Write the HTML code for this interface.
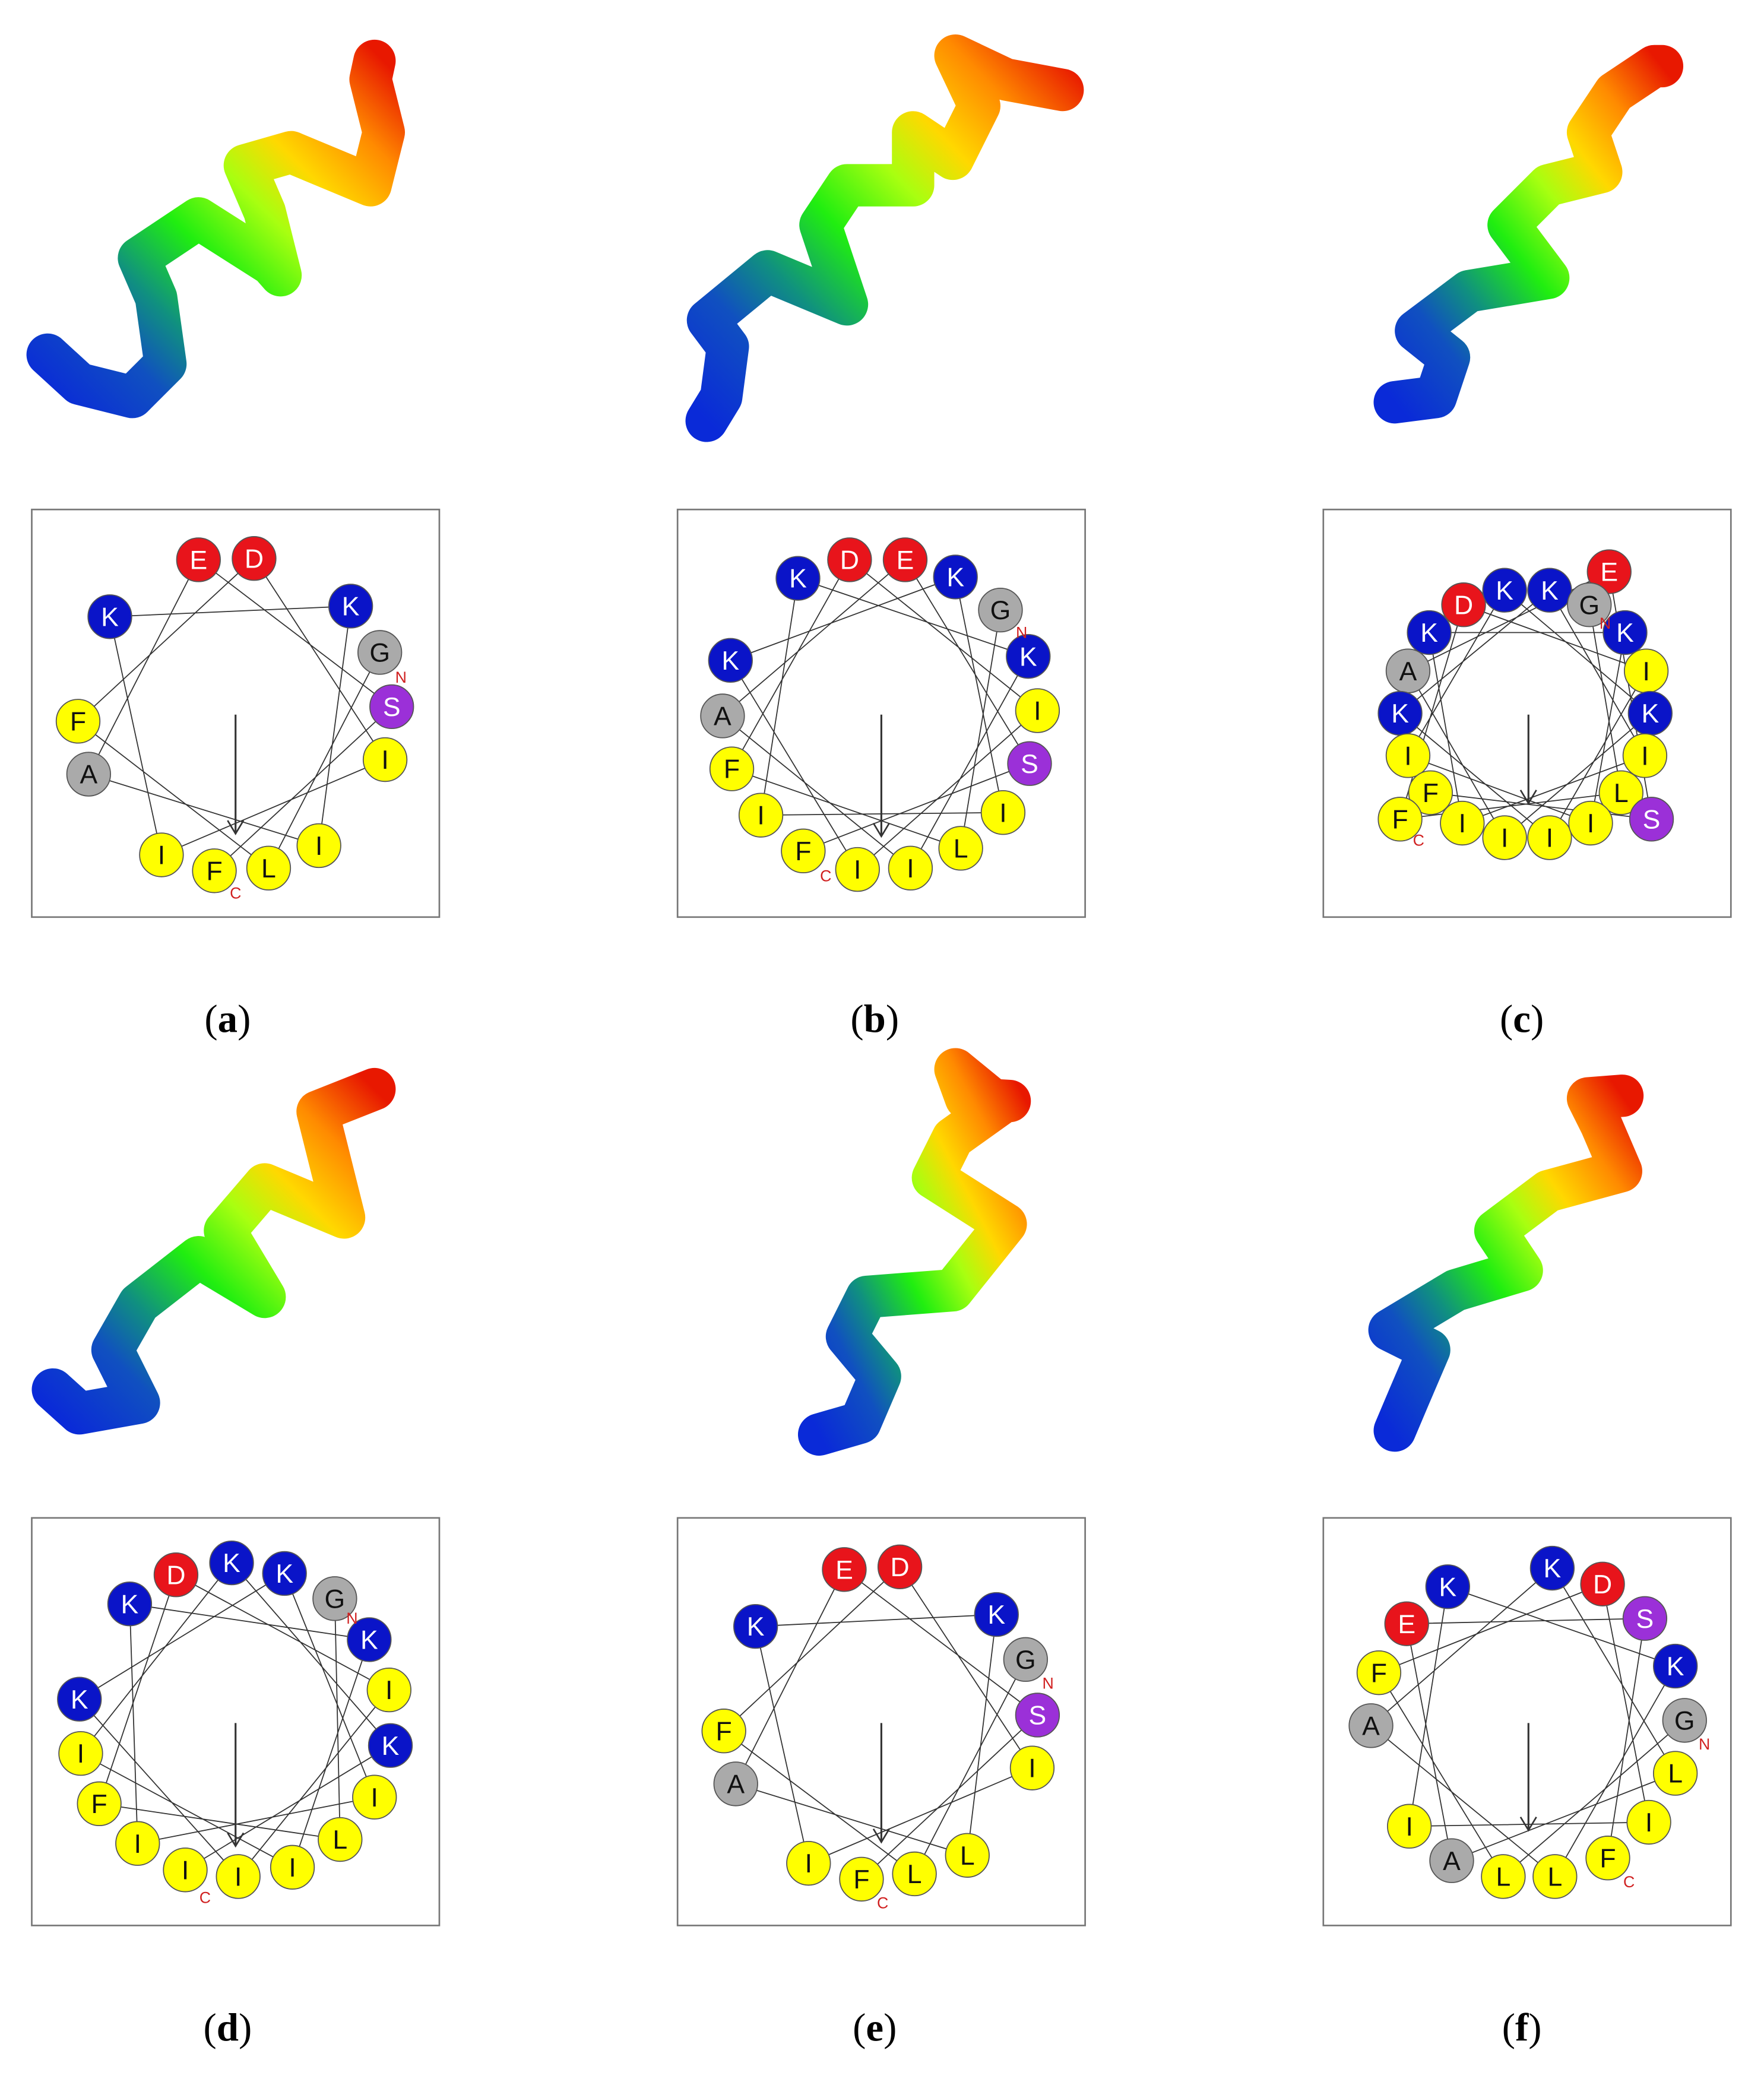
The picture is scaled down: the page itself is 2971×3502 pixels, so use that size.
<!DOCTYPE html>
<html><head><meta charset="utf-8">
<style>html,body{margin:0;padding:0;background:#fff}svg{display:block}</style>
</head><body>
<svg id="s" width="2971" height="3502" viewBox="0 0 1333 1571" preserveAspectRatio="none" xmlns="http://www.w3.org/2000/svg">
<defs>
<linearGradient id="rg" x1="0" y1="1" x2="1" y2="0">
<stop offset="0" stop-color="#0a2ad8"/><stop offset="0.18" stop-color="#1050c0"/>
<stop offset="0.3" stop-color="#109080"/><stop offset="0.45" stop-color="#20ee10"/>
<stop offset="0.6" stop-color="#a8ff10"/><stop offset="0.72" stop-color="#ffd800"/>
<stop offset="0.86" stop-color="#ff8a00"/><stop offset="1" stop-color="#e81800"/>
</linearGradient>
</defs>
<g fill="none" stroke="url(#rg)" stroke-width="32" stroke-linejoin="round" stroke-linecap="round">
<polyline points="36,268 60,290 100,300 125,275 118,225 105,195 150,165 205,200 212,208 200,160 185,125 220,115 280,140 290,100 280,60 283,46"/>
<polyline points="534,318 545,300 550,262 535,242 580,205 640,230 620,170 640,140 690,140 690,100 720,120 740,80 722,42 760,60 803,68"/>
<polyline points="1054,304 1085,300 1095,270 1070,250 1110,220 1170,210 1140,170 1170,140 1210,130 1200,100 1220,70 1250,50 1256,50"/>
<polyline points="40,1050 60,1068 105,1060 85,1020 105,985 150,950 200,980 170,930 200,895 260,920 250,880 240,840 283,823"/>
<polyline points="619,1084 650,1075 665,1040 640,1010 655,980 720,975 760,925 705,890 720,860 755,835 722,808 730,830 763,832"/>
<polyline points="1054,1081 1065,1055 1080,1020 1050,1005 1100,975 1150,960 1130,930 1170,900 1225,885 1210,850 1200,830 1226,828"/>
</g>
<g id="wheels"></g>
<g font-family="Liberation Serif, serif" font-size="30" text-anchor="middle">
<text x="172" y="780">(<tspan font-weight="bold">a</tspan>)</text>
<text x="661" y="780">(<tspan font-weight="bold">b</tspan>)</text>
<text x="1150" y="780">(<tspan font-weight="bold">c</tspan>)</text>
<text x="172" y="1542">(<tspan font-weight="bold">d</tspan>)</text>
<text x="661" y="1542">(<tspan font-weight="bold">e</tspan>)</text>
<text x="1150" y="1542">(<tspan font-weight="bold">f</tspan>)</text>
</g>
</svg>
<script>
var NS="http://www.w3.org/2000/svg";
var C={E:"#e8141b",D:"#e8141b",K:"#0a14c8",G:"#aaaaaa",A:"#aaaaaa",S:"#9b30d8"};
var panels=[
{bx:24,by:385,cx:178,cy:540,ay:630,n:"G",N:[303,512],Cc:[178,675],nodes:[["E",150,423],["D",192,422],["K",83,466],["K",265,458],["G",287,493],["S",296,534],["F",59,545],["I",291,574],["A",67,585],["I",241,639],["I",122,646],["F",162,658],["L",203,656]]},
{bx:512,by:385,cx:666,cy:540,ay:632,n:"G",N:[772,478],Cc:[624,662],nodes:[["K",603,437],["D",642,423],["E",684,423],["K",722,436],["G",756,461],["K",777,496],["I",784,537],["S",778,577],["I",758,614],["L",726,641],["I",688,656],["I",648,657],["F",607,643],["I",575,616],["F",553,581],["A",546,541],["K",552,499]]},
{bx:1000,by:385,cx:1155,cy:540,ay:607,n:"G",N:[1213,471],Cc:[1072,635],nodes:[["E",1216,432],["D",1106,457],["K",1137,446],["K",1171,446],["G",1201,457],["K",1228,478],["K",1080,478],["A",1064,507],["I",1244,507],["K",1058,539],["K",1247,539],["I",1064,571],["I",1243,571],["F",1081,599],["L",1225,599],["F",1058,619],["S",1248,619],["I",1105,622],["I",1137,633],["I",1171,633],["I",1202,622]]},
{bx:24,by:1147,cx:178,cy:1302,ay:1395,n:"G",N:[266,1223],Cc:[155,1434],nodes:[["K",175,1181],["D",133,1190],["K",215,1189],["K",98,1212],["G",253,1208],["K",279,1239],["K",60,1284],["I",294,1277],["K",295,1319],["I",61,1325],["I",283,1358],["F",75,1363],["L",257,1390],["I",104,1393],["I",221,1411],["I",140,1413],["I",180,1418]]},
{bx:512,by:1147,cx:666,cy:1302,ay:1392,n:"G",N:[792,1272],Cc:[667,1438],nodes:[["E",638,1186],["D",680,1184],["K",571,1229],["K",753,1220],["G",775,1254],["S",784,1296],["F",547,1308],["I",780,1336],["A",556,1348],["L",731,1402],["I",611,1408],["F",651,1420],["L",691,1416]]},
{bx:1000,by:1147,cx:1155,cy:1302,ay:1383,n:"G",N:[1288,1318],Cc:[1231,1422],nodes:[["K",1173,1185],["D",1211,1197],["K",1094,1199],["S",1243,1223],["E",1063,1227],["K",1266,1259],["F",1042,1264],["A",1036,1304],["G",1273,1300],["L",1266,1340],["I",1065,1380],["I",1246,1377],["F",1215,1404],["A",1097,1406],["L",1136,1418],["L",1175,1418]]}
];
var W=document.getElementById("wheels");
function el(t,a,p){var e=document.createElementNS(NS,t);for(var k in a)e.setAttribute(k,a[k]);(p||W).appendChild(e);return e;}
function chain(p,dir){
 var nd=p.nodes.map(function(n){return {l:n[0],x:n[1],y:n[2],a:Math.atan2(n[2]-p.cy,n[1]-p.cx)*180/Math.PI};});
 var start=0;for(var i=0;i<nd.length;i++)if(nd[i].l==="G"){start=i;break;}
 var used={},order=[start],cur=start,err=0;used[start]=1;
 for(var s=1;s<nd.length;s++){
  var target=nd[cur].a+dir*100,best=-1,bd=1e9;
  for(var j=0;j<nd.length;j++){if(used[j])continue;var d=Math.abs(((nd[j].a-target)%360+540)%360-180);if(d<bd){bd=d;best=j;}}
  used[best]=1;order.push(best);cur=best;err+=bd;
 }
 return {o:order,e:err,nd:nd};
}
panels.forEach(function(p){
 el("rect",{x:p.bx,y:p.by,width:308,height:308,fill:"#fff",stroke:"#777","stroke-width":1.2});
 var a=chain(p,1),b=chain(p,-1),c=a.e<b.e?a:b;
 var pts=c.o.map(function(i){return c.nd[i].x+","+c.nd[i].y;}).join(" ");
 el("polyline",{points:pts,fill:"none",stroke:"#333","stroke-width":0.8});
 el("line",{x1:p.cx,y1:p.cy,x2:p.cx,y2:p.ay,stroke:"#333","stroke-width":1.4});
 el("polyline",{points:(p.cx-6)+","+(p.ay-10)+" "+p.cx+","+p.ay+" "+(p.cx+6)+","+(p.ay-10),fill:"none",stroke:"#333","stroke-width":1.2});
 p.nodes.forEach(function(n){
  var col=C[n[0]]||"#ffff00";
  el("circle",{cx:n[1],cy:n[2],r:16.5,fill:col,stroke:"#555","stroke-width":0.8});
  var dark=(col==="#ffff00"||col==="#aaaaaa");
  var t=el("text",{x:n[1],y:n[2]+7,"text-anchor":"middle","font-family":"Liberation Sans, sans-serif","font-size":20,fill:dark?"#111":"#fff"});
  t.textContent=n[0];
 });
 var tn=el("text",{x:p.N[0],y:p.N[1]+4,"text-anchor":"middle","font-family":"Liberation Sans, sans-serif","font-size":12,fill:"#d02020"});tn.textContent="N";
 var tc=el("text",{x:p.Cc[0],y:p.Cc[1]+4,"text-anchor":"middle","font-family":"Liberation Sans, sans-serif","font-size":12,fill:"#d02020"});tc.textContent="C";
});
</script>
</body></html>
